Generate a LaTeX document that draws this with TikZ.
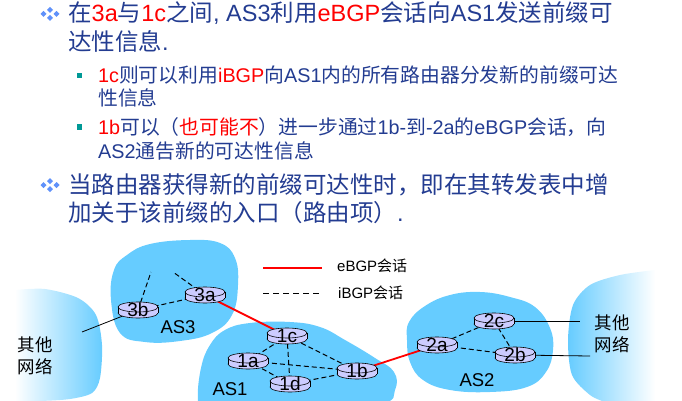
\documentclass[tikz,border=0pt]{standalone}
\usepackage{fontspec}
\setmainfont{Liberation Sans}
\newfontfamily\cjk{Noto Sans CJK SC}
\usetikzlibrary{shapes.geometric}
\definecolor{navy}{RGB}{35,60,145}
\definecolor{cloudblue}{RGB}{102,204,255}
\definecolor{routerfill}{RGB}{204,204,255}
\definecolor{tealsq}{RGB}{0,153,150}
\definecolor{diamondblue}{RGB}{95,145,250}
\newcommand\zh[1]{{\cjk #1}}
\newcommand\rd[1]{{\color{red}#1}}
\pgfdeclarelayer{clouds}
\pgfdeclarelayer{links}
\pgfsetlayers{clouds,links,main}
\newcommand\rtr[4]{%
  \begin{scope}[shift={(#2,#3)}]
    \fill[routerfill] (-20,-3) rectangle (20,3);
    \filldraw[fill=routerfill, draw=black, line width=0.6pt] (0,3) ellipse [x radius=20, y radius=5];
    \fill[routerfill] (-19.6,-3) rectangle (19.6,3);
    \draw[line width=0.6pt] (-20,-3) -- (-20,3) (20,-3) -- (20,3);
    \filldraw[fill=routerfill, draw=black, line width=0.6pt] (0,-3) ellipse [x radius=20, y radius=5];
    \node[rlabel] (#1) at (0,0) {#4};
  \end{scope}}
\newcommand\dbullet[2]{%
  \begin{scope}[shift={(#1,#2)}]
    \foreach \dx/\dy in {0/-4, -6.5/0, 6.5/0, 0/4}{
      \fill[diamondblue] (\dx-3,\dy) -- (\dx,\dy-3) -- (\dx+3,\dy) -- (\dx,\dy+3) -- cycle;}
  \end{scope}}
\begin{document}
\begin{tikzpicture}[x=1pt,y=-1pt,
  maintext/.style={anchor=base west, inner sep=0pt, text=navy, font=\fontsize{23.5}{28}\selectfont},
  subtext/.style={anchor=base west, inner sep=0pt, text=navy, font=\fontsize{19.8}{24}\selectfont},
  ibgp/.style={draw=black, line width=1pt, dash pattern=on 5pt off 3pt},
  ebgp/.style={draw=red, line width=1.8pt},
  wire/.style={draw=black, line width=0.8pt},
  cloud/.style={fill=cloudblue},
  rlabel/.style={inner sep=0pt, minimum width=40pt, minimum height=16pt, font=\fontsize{19}{19}\selectfont},
  aslabel/.style={inner sep=0pt, font=\fontsize{18.5}{20}\selectfont},
  netlabel/.style={inner sep=0pt, align=center, font=\cjk\fontsize{17.5}{22}\selectfont},
  legendtext/.style={anchor=west, inner sep=0pt, font=\fontsize{15}{18}\selectfont},
  sqbullet/.style={fill=tealsq},
]
\useasboundingbox (0,0) rectangle (682,401);

% ---------- text ----------
\dbullet{50}{14}
\node[maintext] (t1) at (68,21.7) {\zh{在}\rd{3a}\zh{与}\rd{1c}\zh{之间}, AS3\zh{利用}\rd{eBGP}\zh{会话向}AS1\zh{发送前缀可}};
\node[maintext] (t2) at (68,50.7) {\zh{达性信息}.};
\fill[sqbullet] (76.5,73.5) rectangle (81.5,78.5);
\node[subtext] (s1a) at (98,82.3) {\rd{1c}\zh{则可以利用}\rd{iBGP}\zh{向}AS1\zh{内的所有路由器分发新的前缀可达}};
\node[subtext] (s1b) at (98,105.5) {\zh{性信息}};
\fill[sqbullet] (76.5,124.5) rectangle (81.5,129.5);
\node[subtext] (s2a) at (98,134.5) {\rd{1b}\zh{可以（}\rd{\zh{也可能不}}\zh{）进一步通过}1b-\zh{到}-2a\zh{的}eBGP\zh{会话，向}};
\node[subtext] (s2b) at (98,158) {AS2\zh{通告新的可达性信息}};
\dbullet{50}{185}
\node[maintext] (t3) at (68,193.7) {\zh{当路由器获得新的前缀可达性时，即在其转发表中增}};
\node[maintext] (t4) at (68,221.7) {\zh{加关于该前缀的入口（路由项）}.};

% ---------- clouds ----------
\begin{pgfonlayer}{clouds}
\fill[cloud] plot[smooth cycle, tension=0.7] coordinates {(111,300) (114,270) (127,255) (150,244) (190,240) (220,243) (235,258) (238,285) (232,315) (212,333) (180,341) (145,342) (120,333)};
\fill[cloud] plot[smooth cycle, tension=0.7] coordinates {(198,400) (201,368) (210,345) (225,330) (250,323) (290,322) (320,327) (345,340) (375,358) (394,372) (395,390) (380,405) (300,420) (205,415)};
\fill[cloud] plot[smooth cycle, tension=0.7] coordinates {(409,322) (425,306) (450,295) (480,292) (510,297) (535,307) (550,328) (553,350) (546,372) (527,387) (490,392) (450,390) (423,380) (410,362) (407,340)};
\shade[left color=white, right color=cloudblue] plot[smooth] coordinates {(15,290) (45,289) (78,298) (96,315) (102,345) (100,378) (92,393) (70,399) (40,401) (15,401)} -- cycle;
\shade[left color=cloudblue, right color=white] plot[smooth] coordinates {(655,270) (620,275) (590,285) (573,305) (568,340) (572,375) (590,395) (605,402)} -- (655,402) -- cycle;
\end{pgfonlayer}

% ---------- routers ----------
\rtr{r3a}{205}{295}{3a}
\rtr{r3b}{138}{310}{3b}
\rtr{r1c}{287}{336}{1c}
\rtr{r1a}{248}{361}{1a}
\rtr{r1d}{290}{384}{1d}
\rtr{r1b}{357}{371}{1b}
\rtr{r2a}{437}{345}{2a}
\rtr{r2c}{494}{321}{2c}
\rtr{r2b}{515}{355}{2b}

\coordinate (stub1) at (151,272);
\coordinate (stub2) at (173,272);
\coordinate (netL) at (82,332);
\coordinate (netR1) at (580,321);
\coordinate (netR2) at (590,356);

% ---------- links ----------
\begin{pgfonlayer}{links}
\draw[ibgp] (r3b.center) -- (r3a.center);
\draw[ibgp] (r3b.center) -- (stub1);
\draw[ibgp] (r3a.center) -- (stub2);
\draw[wire] (r3b.center) -- (netL);
\draw[ebgp] (r3a.center) -- (r1c.center);
\draw[ibgp] (r1c.center) -- (r1a.center);
\draw[ibgp] (r1c.center) -- (r1d.center);
\draw[ibgp] (r1c.center) -- (r1b.center);
\draw[ibgp] (r1a.center) -- (r1b.center);
\draw[ibgp] (r1a.center) -- (r1d.center);
\draw[ibgp] (r1d.center) -- (r1b.center);
\draw[ebgp] (r1b.center) -- (r2a.center);
\draw[ibgp] (r2a.center) -- (r2c.center);
\draw[ibgp] (r2a.center) -- (r2b.center);
\draw[ibgp] (r2c.center) -- (r2b.center);
\draw[wire] (r2c.center) -- (netR1);
\draw[wire] (r2b.center) -- (netR2);
\end{pgfonlayer}

% ---------- labels ----------
\node[aslabel] (as3) at (178,327) {AS3};
\node[aslabel] (as1) at (230,389) {AS1};
\node[aslabel] (as2) at (477,380) {AS2};
\node[netlabel] (net1) at (35,356) {其他\\网络};
\node[netlabel] (net2) at (612,334) {其他\\网络};

% ---------- legend ----------
\coordinate (lgA1) at (263,268);
\coordinate (lgA2) at (322,268);
\coordinate (lgB1) at (263,293);
\coordinate (lgB2) at (322,293);
\draw[ebgp] (lgA1) -- (lgA2);
\draw[ibgp, dash pattern=on 6pt off 4pt] (lgB1) -- (lgB2);
\node[legendtext] (lge) at (337,266) {eBGP\zh{会话}};
\node[legendtext] (lgi) at (338,293) {iBGP\zh{会话}};
\end{tikzpicture}
\end{document}
